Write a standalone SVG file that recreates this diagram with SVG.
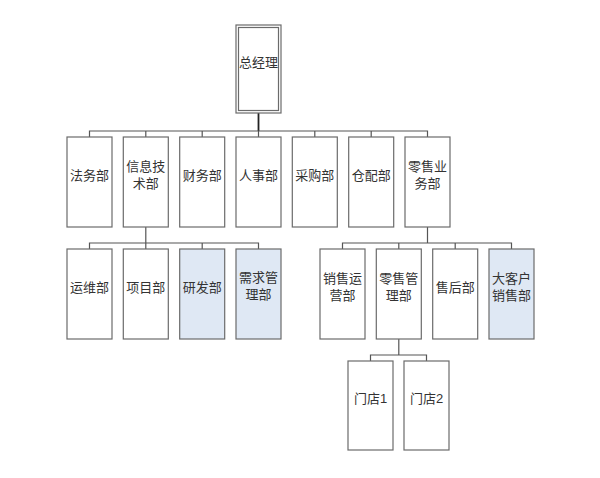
<svg xmlns="http://www.w3.org/2000/svg" width="600" height="478" viewBox="0 0 600 478">
<style>
.box{fill:#ffffff;stroke:#6b6b6b;stroke-width:1.2}
.hl{fill:#dfe8f4}
.t{font-family:"Liberation Sans","Noto Sans CJK SC",sans-serif;font-size:13px;fill:#333333;text-anchor:middle;dominant-baseline:central}
.c{fill:none;stroke:#555555;stroke-width:1.2}
.cm{fill:none;stroke:#222222;stroke-width:1.8}
</style>
<rect width="600" height="478" fill="#ffffff"/>
<g id="connectors">
<path class="cm" d="M258.5,113 V131"/>
<path class="c" d="M89.5,137 V131 H427.5 V137 M145.8,131 V137 M202.2,131 V137 M258.5,131 V137 M314.8,131 V137 M371.2,131 V137"/>
<path class="c" d="M145.8,227 V243 M89.5,249 V243 H258.5 V249 M145.8,243 V249 M202.2,243 V249"/>
<path class="c" d="M427.5,227 V243 M342.5,249 V243 H511.5 V249 M398.8,243 V249 M455.2,243 V249"/>
<path class="c" d="M398.8,339 V355 M370.5,361 V355 H426.5 V361"/>
</g>
<g id="n-ceo">
<rect class="box" x="236" y="25" width="45" height="88"/>
<rect class="box" x="238.5" y="27.5" width="40" height="83" fill="none"/>
<text class="t" x="258.5" y="62">总经理</text>
</g>
<g id="n-legal"><rect class="box" x="67" y="137" width="45" height="90"/><text class="t" x="89.5" y="175">法务部</text></g>
<g id="n-it"><rect class="box" x="123.3" y="137" width="45" height="90"/><text class="t" x="145.8" y="166">信息技</text><text class="t" x="145.8" y="183">术部</text></g>
<g id="n-fin"><rect class="box" x="179.7" y="137" width="45" height="90"/><text class="t" x="202.2" y="175">财务部</text></g>
<g id="n-hr"><rect class="box" x="236" y="137" width="45" height="90"/><text class="t" x="258.5" y="175">人事部</text></g>
<g id="n-purchase"><rect class="box" x="292.3" y="137" width="45" height="90"/><text class="t" x="314.8" y="175">采购部</text></g>
<g id="n-warehouse"><rect class="box" x="348.7" y="137" width="45" height="90"/><text class="t" x="371.2" y="175">仓配部</text></g>
<g id="n-retail"><rect class="box" x="405" y="137" width="45" height="90"/><text class="t" x="427.5" y="166">零售业</text><text class="t" x="427.5" y="183">务部</text></g>
<g id="n-ops"><rect class="box" x="67" y="249" width="45" height="90"/><text class="t" x="89.5" y="287">运维部</text></g>
<g id="n-proj"><rect class="box" x="123.3" y="249" width="45" height="90"/><text class="t" x="145.8" y="287">项目部</text></g>
<g id="n-rd"><rect class="box hl" x="179.7" y="249" width="45" height="90"/><text class="t" x="202.2" y="287">研发部</text></g>
<g id="n-req"><rect class="box hl" x="236" y="249" width="45" height="90"/><text class="t" x="258.5" y="277">需求管</text><text class="t" x="258.5" y="294">理部</text></g>
<g id="n-salesops"><rect class="box" x="320" y="249" width="45" height="90"/><text class="t" x="342.5" y="278">销售运</text><text class="t" x="342.5" y="295">营部</text></g>
<g id="n-retailmgmt"><rect class="box" x="376.3" y="249" width="45" height="90"/><text class="t" x="398.8" y="278">零售管</text><text class="t" x="398.8" y="295">理部</text></g>
<g id="n-aftersales"><rect class="box" x="432.7" y="249" width="45" height="90"/><text class="t" x="455.2" y="287">售后部</text></g>
<g id="n-keyacct"><rect class="box hl" x="489" y="249" width="45" height="90"/><text class="t" x="511.5" y="278">大客户</text><text class="t" x="511.5" y="295">销售部</text></g>
<g id="n-store1"><rect class="box" x="348" y="361" width="45" height="89"/><text class="t" x="370.5" y="398">门店1</text></g>
<g id="n-store2"><rect class="box" x="404" y="361" width="45" height="89"/><text class="t" x="426.5" y="398">门店2</text></g>
</svg>
